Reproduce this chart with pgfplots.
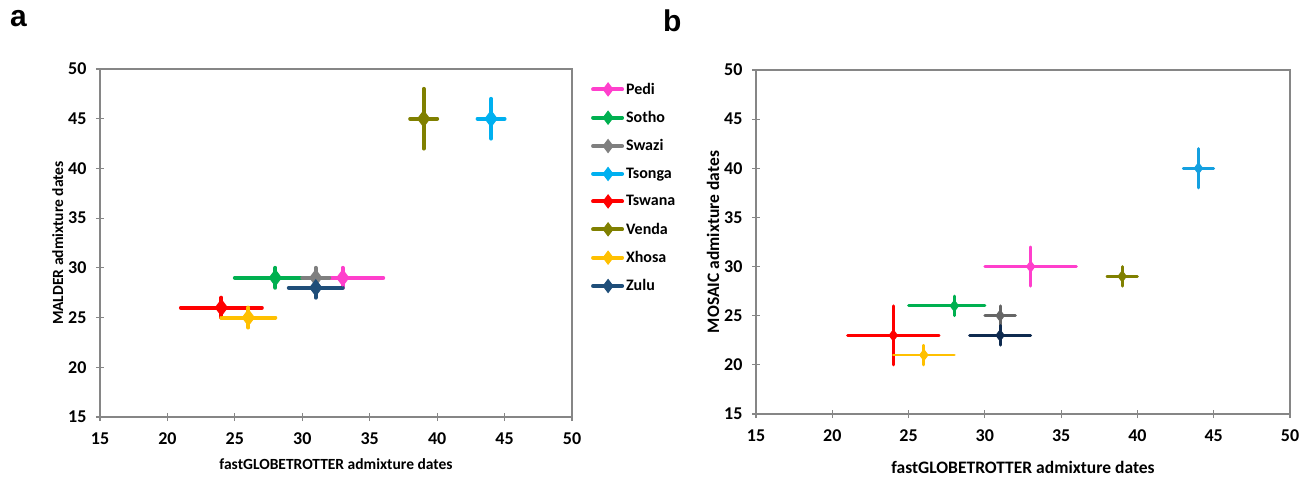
\documentclass[border=0pt]{standalone}
\usepackage{pgfplots}
\pgfplotsset{compat=1.18}
\usepackage{fontspec}
\setmainfont{Carlito}
\newfontfamily\arialb{Liberation Sans}
\definecolor{cPedi}{HTML}{FF3FCC}
\definecolor{cSotho}{HTML}{00B050}
\definecolor{cSwazi}{HTML}{7F7F7F}
\definecolor{cTsonga}{HTML}{00B0F0}
\definecolor{cTswana}{HTML}{FF0000}
\definecolor{cVenda}{HTML}{808000}
\definecolor{cXhosa}{HTML}{FFC000}
\definecolor{cZulu}{HTML}{1F4E79}
\definecolor{bSwazi}{HTML}{666666}
\definecolor{bTsonga}{HTML}{14A0E0}
\definecolor{bZulu}{HTML}{0E2A4F}
\definecolor{axgray}{HTML}{868686}
\pgfplotsset{
  base/.style={
    scale only axis,
    xmin=15,xmax=50,ymin=15,ymax=50,
    xtick={15,20,...,50}, ytick={15,20,...,50},
    axis line style={axgray, line width=1.4pt},
    tick style={axgray, line width=1.2pt},
    major tick length=8pt,
    tick align=center,
    xtick pos=bottom, ytick pos=left,
    /pgf/number format/assume math mode=true,
    tick label style={font=\bfseries\fontsize{18}{20}\selectfont},
    xticklabel style={yshift=-8pt},
    yticklabel style={xshift=-6pt},
    label style={font=\bfseries\fontsize{15.5}{18}\selectfont},
    error bars/y dir=both, error bars/y explicit,
    error bars/x dir=both, error bars/x explicit,
    error bars/error mark=none,
    clip=false,
  },
  sa/.style={mark=diamond*, mark size=8pt, line width=1pt, solid,
    mark options={solid, fill=#1, draw=#1}, color=#1,
    error bars/error bar style={solid, line width=4pt, color=#1, line cap=round}},
  sb/.style={mark=diamond*, mark size=5.5pt, line width=1pt, solid,
    mark options={solid, fill=#1, draw=#1}, color=#1,
    error bars/error bar style={solid, line width=2.8pt, color=#1, line cap=round}},
}
\begin{document}
\begin{tikzpicture}
\path[use as bounding box] (0pt,0pt) rectangle (1314pt,477pt);
\node[anchor=north west, inner sep=0pt] at (10pt,467pt) {\arialb\bfseries\fontsize{30}{32}\selectfont a};
\node[anchor=north west, inner sep=0pt] at (663pt,467pt) {\arialb\bfseries\fontsize{30}{32}\selectfont b};
\begin{axis}[base,
  at={(100pt,60pt)}, anchor=south west, width=472pt, height=348pt,
  xlabel={fastGLOBETROTTER admixture dates},
  ylabel={MALDER admixture dates},
  xlabel style={yshift=-7pt},
  ylabel style={yshift=-2pt},
  legend style={at={(1.04,0.966)}, anchor=north west, draw=none, fill=none,
    font=\bfseries\fontsize{16}{17}\selectfont, row sep=11.6pt,
    inner sep=0pt, cells={anchor=west}},
  legend image code/.code={%
    \draw[line width=4pt, line cap=round, #1] (0pt,0pt) -- (29pt,0pt);
    \draw[#1, mark size=6.5pt] plot coordinates {(15pt,0pt)};},
]
\addplot[sa=cPedi] coordinates {(33,29) +- (3,1)};
\addlegendentry{Pedi}
\addplot[sa=cSotho] coordinates {(28,29) += (2,1) -= (3,1)};
\addlegendentry{Sotho}
\addplot[sa=cSwazi] coordinates {(31,29) +- (1,1)};
\addlegendentry{Swazi}
\addplot[sa=cTsonga] coordinates {(44,45) +- (1,2)};
\addlegendentry{Tsonga}
\addplot[sa=cTswana] coordinates {(24,26) +- (3,1)};
\addlegendentry{Tswana}
\addplot[sa=cVenda] coordinates {(39,45) +- (1,3)};
\addlegendentry{Venda}
\addplot[sa=cXhosa] coordinates {(26,25) +- (2,1)};
\addlegendentry{Xhosa}
\addplot[sa=cZulu] coordinates {(31,28) +- (2,1)};
\addlegendentry{Zulu}
\end{axis}
\begin{axis}[base,
  at={(756pt,63pt)}, anchor=south west, width=534pt, height=344pt,
  xlabel={fastGLOBETROTTER admixture dates},
  ylabel={MOSAIC admixture dates},
  label style={font=\bfseries\fontsize{17.5}{19}\selectfont},
  xlabel style={yshift=-13pt},
  ylabel style={yshift=-2pt},
]
\addplot[sb=cPedi] coordinates {(33,30) +- (3,2)};
\addplot[sb=cSotho] coordinates {(28,26) += (2,1) -= (3,1)};
\addplot[sb=bSwazi] coordinates {(31,25) +- (1,1)};
\addplot[sb=bTsonga] coordinates {(44,40) +- (1,2)};
\addplot[sb=cTswana] coordinates {(24,23) +- (3,3)};
\addplot[sb=cVenda] coordinates {(39,29) +- (1,1)};
\addplot[sb=cXhosa] coordinates {(26,21) +- (2,1)};
\addplot[sb=bZulu] coordinates {(31,23) +- (2,1)};
\end{axis}
\end{tikzpicture}
\end{document}
